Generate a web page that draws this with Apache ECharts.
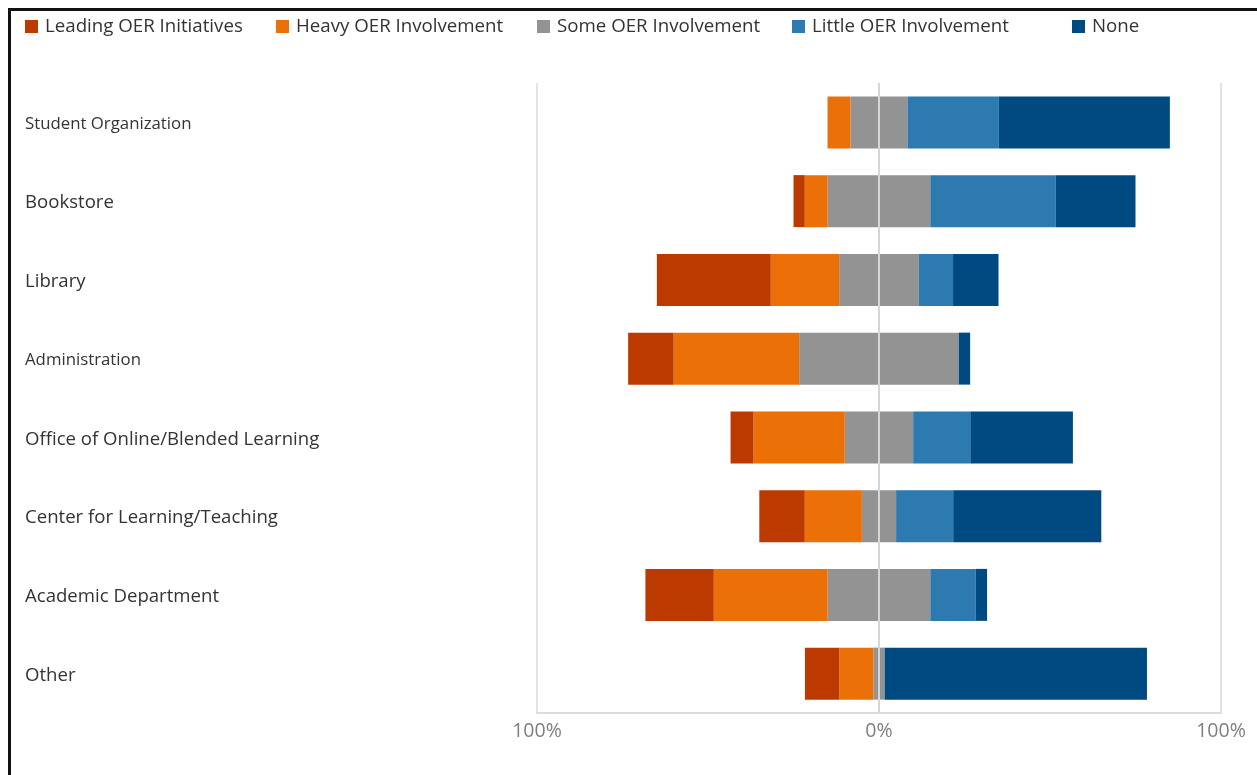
<!DOCTYPE html>
<html>
<head>
<meta charset="utf-8">
<script src="https://cdn.jsdelivr.net/npm/echarts@6/dist/echarts.min.js"></script>
<style>
  html, body { margin: 0; padding: 0; background: #fff; }
  #chart { width: 1257px; height: 775px; }
  #frame {
    position: absolute; left: 8px; top: 8px; right: 0; bottom: 0;
    border-top: 3px solid #111; border-left: 3px solid #111;
    pointer-events: none;
  }
</style>
</head>
<body>
<div id="chart"></div>
<div id="frame"></div>
<script>
// Units involved in OER work, share of responses (%)
const categories = [
  'Student Organization',
  'Bookstore',
  'Library',
  'Administration',
  'Office of Online/Blended Learning',
  'Center for Learning/Teaching',
  'Academic Department',
  'Other'
];
const leading = [0, 3.3, 33.3, 13.3, 6.7, 13.3, 20.0, 10.0];
const heavy   = [6.7, 6.7, 20.0, 36.7, 26.7, 16.7, 33.3, 10.0];
const some    = [16.7, 30.0, 23.3, 46.7, 20.0, 10.0, 30.0, 3.3];
const little  = [26.7, 36.7, 10.0, 0, 16.7, 16.7, 13.3, 0];
const none    = [50.0, 23.3, 13.3, 3.3, 30.0, 43.3, 3.3, 76.7];

const seriesNames = ['Leading OER Initiatives', 'Heavy OER Involvement', 'Some OER Involvement', 'Little OER Involvement', 'None'];
const colors = ['#BC3A00', '#EC7008', '#939393', '#2C7AB0', '#004A82'];
const smallLabels = ['Student Organization', 'Administration'];

const FONT = '"Open Sans", "Noto Sans", sans-serif';
const r1 = v => Math.round(v * 100) / 100;

function bar(name, color, values) {
  return {
    name: name,
    type: 'bar',
    stack: 'total',
    barWidth: 52,
    itemStyle: { color: color },
    emphasis: { disabled: true },
    data: values
  };
}

// Negative side stacks outward from zero: half of "Some", then Heavy, then Leading
const series = [
  bar(seriesNames[2], colors[2], some.map(v => -r1(v / 2))),
  bar(seriesNames[1], colors[1], heavy.map(v => -v)),
  bar(seriesNames[0], colors[0], leading.map(v => -v)),
  bar(seriesNames[2], colors[2], some.map(v => r1(v / 2))),
  bar(seriesNames[3], colors[3], little),
  Object.assign(bar(seriesNames[4], colors[4], none), {
    markLine: {
      silent: true,
      symbol: 'none',
      label: { show: false },
      lineStyle: { color: '#d6d6d6', width: 2, type: 'solid' },
      data: [{ xAxis: 0 }],
      z: 10
    }
  })
];

const legendLeft = [25, 276, 537, 792, 1072];
const legends = seriesNames.map((n, i) => ({
  data: [n],
  left: legendLeft[i],
  top: 17,
  padding: 0,
  itemWidth: 13,
  itemHeight: 13,
  itemGap: 0,
  icon: 'rect',
  selectedMode: false,
  textStyle: { fontFamily: FONT, fontSize: 18.7, color: '#333', padding: [0, 0, 0, 2] }
}));

const chart = echarts.init(document.getElementById('chart'), null, { renderer: 'canvas' });
chart.setOption({
  animation: false,
  color: colors,
  legend: legends,
  grid: { left: 537, right: 36, top: 83, bottom: 62, containLabel: false },
  xAxis: {
    type: 'value',
    min: -100,
    max: 100,
    interval: 100,
    axisLine: { show: true, lineStyle: { color: '#dcdcdc', width: 2 } },
    axisTick: { show: false },
    splitLine: { show: true, lineStyle: { color: '#e3e3e3', width: 2 } },
    axisLabel: {
      margin: 8,
      fontFamily: FONT,
      fontSize: 19.5,
      color: '#7f7f7f',
      formatter: v => Math.abs(v) + '%'
    }
  },
  yAxis: {
    type: 'category',
    inverse: true,
    data: categories,
    axisLine: { show: false },
    axisTick: { show: false },
    axisLabel: {
      align: 'left',
      margin: 512,
      fontFamily: FONT,
      color: '#333',
      formatter: v => (smallLabels.includes(v) ? '{s|' + v + '}' : '{n|' + v + '}'),
      rich: {
        n: { fontFamily: FONT, fontSize: 18.6, color: '#333', padding: [4, 0, 0, 0] },
        s: { fontFamily: FONT, fontSize: 16.8, color: '#333', padding: [4, 0, 0, 0] }
      }
    }
  },
  series: series
});
</script>
</body>
</html>
